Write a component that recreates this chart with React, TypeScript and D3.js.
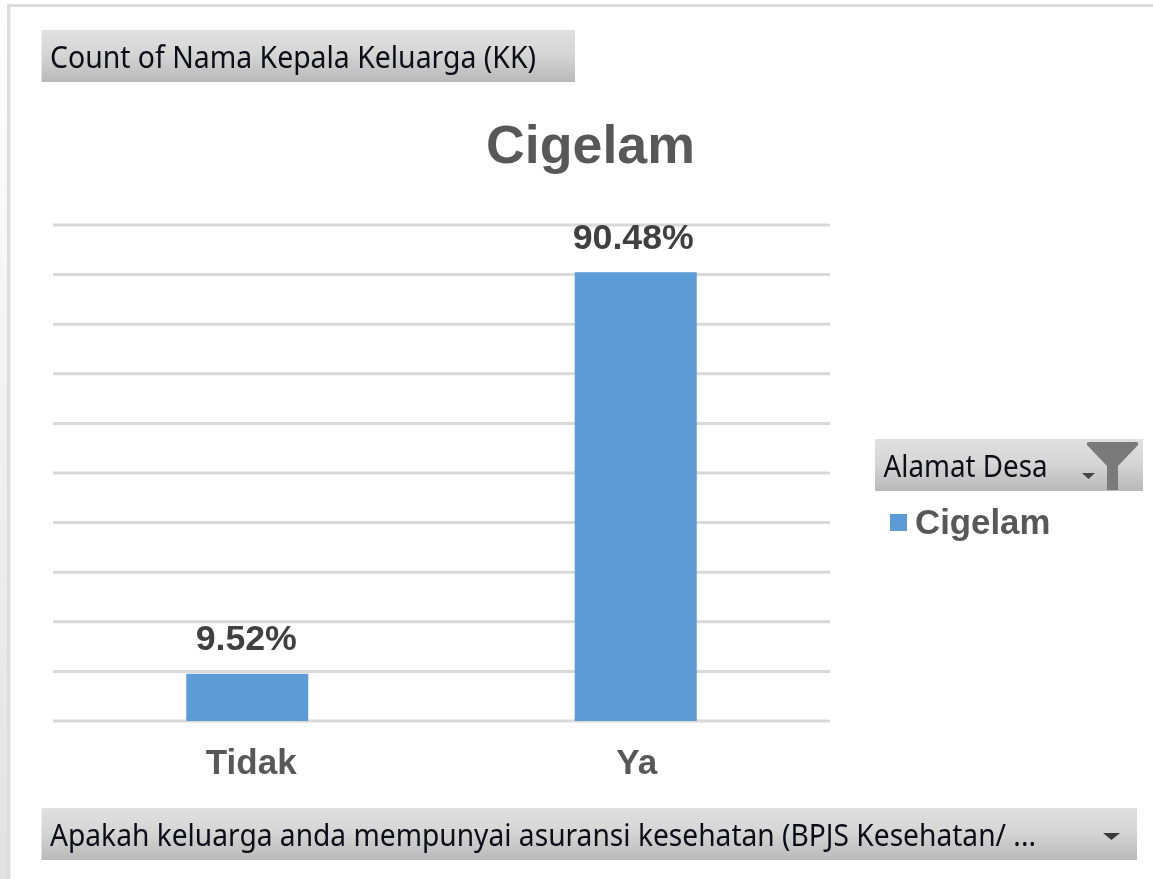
import React from "react";
import * as d3 from "d3";

const categories = ["Tidak", "Ya"];
const shares = [0.0952, 0.9048];
const shareLabels = ["9.52%", "90.48%"];
const gridTicks = [0, 0.1, 0.2, 0.3, 0.4, 0.5, 0.6, 0.7, 0.8, 0.9, 1];
const chartTitle = "Cigelam";
const valueButton = "Count of Nama Kepala Keluarga (KK)";
const axisButton = "Apakah keluarga anda mempunyai asuransi kesehatan (BPJS Kesehatan/ ...";
const legendButton = "Alamat Desa";
const legendItems = ["Cigelam"];

const W = 1153, H = 879;
const x = d3.scaleBand<string>().domain(categories).range([53, 830]).paddingInner(0.686).paddingOuter(0.343);
const y = d3.scaleLinear().domain([0, 1]).range([721, 225]);
const sans = "'Liberation Sans', Arial, sans-serif";
const ui = "'Noto Sans', sans-serif";
const BLUE = "#5b9bd5";

function Button({ bx, by, bw, bh, label, lw, fs = 30 }: any) {
  return (
    <g>
      <rect x={bx} y={by} width={bw} height={bh} fill="url(#btn)" />
      <text x={bx + 8.5} y={by + 37.5} fontFamily={ui} fontSize={fs} fill="#0c0c18"
        textLength={lw} lengthAdjust="spacingAndGlyphs">{label}</text>
    </g>
  );
}

export default function App() {
  return (
    <svg width={W} height={H} viewBox={`0 0 ${W} ${H}`}
      style={{ position: "fixed", left: 0, top: 0, display: "block", background: "#fff" }}>
      <defs>
        <linearGradient id="btn" x1="0" y1="0" x2="0" y2="1">
          <stop offset="0" stopColor="#e0e0e0" />
          <stop offset="0.45" stopColor="#d6d6d6" />
          <stop offset="1" stopColor="#b9b9b9" />
        </linearGradient>
        <linearGradient id="side" x1="0" y1="0" x2="0" y2="1">
          <stop offset="0" stopColor="#ffffff" />
          <stop offset="1" stopColor="#e2e2e2" />
        </linearGradient>
        <filter id="soft" x="-5%" y="-5%" width="110%" height="110%">
          <feGaussianBlur stdDeviation="0.55" />
        </filter>
      </defs>

      <rect x={0} y={0} width={7} height={H} fill="url(#side)" />
      <rect x={7} y={4} width={W - 7} height={3} fill="#dcdcdc" />
      <rect x={7} y={4} width={3.5} height={H - 4} fill="#dcdcdc" />

      <g filter="url(#soft)">
        <Button bx={41.5} by={30} bw={533.5} bh={52} label={valueButton} lw={486} />
        <Button bx={875} by={439} bw={268} bh={52} label={legendButton} lw={164} />
        <Button bx={41.5} by={808} bw={1095.5} bh={52} label={axisButton} lw={986} />

        <path d="M1089,442 H1136 Q1139,442 1138,445 L1118,466 V490 H1107 V466 L1087,445 Q1086,442 1089,442 Z" fill="#7a7a7a" />
        <path d="M1082,473 H1095 L1088.5,479 Z" fill="#444" />
        <path d="M1103,833 H1120 L1111.5,840 Z" fill="#3a3a3a" />

        <text x={590.5} y={162.5} textAnchor="middle" fontFamily={sans} fontWeight={700} fontSize={53.7} fill="#595959">{chartTitle}</text>

        {gridTicks.map((t) => (
          <line key={t} x1={53} x2={830} y1={y(t)} y2={y(t)} stroke="#d9d9d9" strokeWidth={3} />
        ))}

        {categories.map((c, i) => (
          <g key={c}>
            <rect x={x(c)} y={y(shares[i])} width={x.bandwidth()} height={y(0) - y(shares[i])} fill={BLUE} />
            <text x={x(c)! + x.bandwidth() / 2 - (i === 0 ? 1 : 2.5)} y={y(shares[i]) - 23.5} textAnchor="middle" fontFamily={sans}
              fontWeight={700} fontSize={35.7} fill="#404040">{shareLabels[i]}</text>
            <text x={x(c)! + x.bandwidth() / 2 + (i === 0 ? 4 : 1)} y={774} textAnchor="middle" fontFamily={sans}
              fontWeight={700} fontSize={35} fill="#595959">{c}</text>
          </g>
        ))}

        {legendItems.map((item) => (
          <g key={item}>
            <rect x={890} y={514} width={17} height={17} fill={BLUE} />
            <text x={915} y={534} fontFamily={sans} fontWeight={700} fontSize={34.8} fill="#595959">{item}</text>
          </g>
        ))}
      </g>
    </svg>
  );
}
